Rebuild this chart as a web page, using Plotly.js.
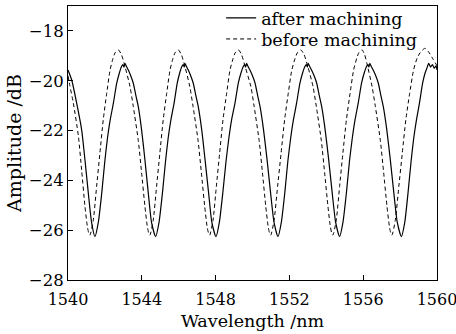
<!DOCTYPE html>
<html>
<head>
<meta charset="utf-8">
<script src="https://cdn.plot.ly/plotly-3.0.1.min.js"></script>
<style>html,body{margin:0;padding:0;background:#fff;}#chart{width:456px;height:334px;}</style>
</head>
<body>
<div id="chart"></div>
<script>
var afterWavelength = [
1540.0,1540.2,1540.47,1540.74,1540.92,1541.1,1541.28,1541.46,
1541.64,1541.83,1542.0,1542.14,1542.28,1542.46,1542.64,1542.78,1542.9,1542.98,1543.03,1543.09,1543.15,1543.27,1543.4,1543.54,1543.68,1543.81,1543.99,1544.17,1544.35,1544.53,1544.75,
1544.93,1545.12,1545.29,1545.43,1545.57,1545.75,1545.92,1546.05,1546.17,1546.25,1546.3,1546.34,1546.4,1546.52,1546.65,1546.79,1546.93,1547.06,1547.25,1547.43,1547.62,1547.8,1548.02,
1548.2,1548.39,1548.57,1548.72,1548.86,1549.05,1549.23,1549.37,1549.5,1549.58,1549.63,1549.68,1549.74,1549.86,1550.0,1550.14,1550.28,1550.41,1550.6,1550.79,1550.98,1551.17,1551.38,
1551.56,1551.75,1551.92,1552.07,1552.21,1552.39,1552.57,1552.71,1552.84,1552.92,1552.97,1553.02,1553.08,1553.2,1553.34,1553.48,1553.62,1553.75,1553.94,1554.13,1554.32,1554.51,1554.72,
1554.9,1555.09,1555.26,1555.41,1555.55,1555.73,1555.91,1556.05,1556.18,1556.26,1556.31,1556.36,1556.42,1556.54,1556.68,1556.82,1556.96,1557.09,1557.28,1557.47,1557.66,1557.85,1558.07,
1558.25,1558.43,1558.6,1558.74,1558.88,1559.05,1559.22,1559.35,1559.45,1559.55,1559.65,1559.75,1559.85,1559.95,1560.0
];
var afterAmplitude = [
-19.57,-19.97,-20.9,-21.97,-23.18,-24.5,-25.7,-26.26,
-25.7,-24.5,-23.2,-22.3,-21.6,-20.9,-20.1,-19.7,-19.43,-19.35,-19.45,-19.3,-19.4,-19.57,-19.8,-20.1,-20.6,-21.04,-21.98,-23.18,-24.5,-25.7,-26.26,
-25.7,-24.5,-23.2,-22.3,-21.6,-20.9,-20.1,-19.7,-19.43,-19.35,-19.45,-19.3,-19.4,-19.57,-19.8,-20.1,-20.6,-21.04,-21.98,-23.18,-24.5,-25.7,-26.26,
-25.7,-24.5,-23.2,-22.3,-21.6,-20.9,-20.1,-19.7,-19.43,-19.35,-19.45,-19.3,-19.4,-19.57,-19.8,-20.1,-20.6,-21.04,-21.98,-23.18,-24.5,-25.7,-26.26,
-25.7,-24.5,-23.2,-22.3,-21.6,-20.9,-20.1,-19.7,-19.43,-19.35,-19.45,-19.3,-19.4,-19.57,-19.8,-20.1,-20.6,-21.04,-21.98,-23.18,-24.5,-25.7,-26.26,
-25.7,-24.5,-23.2,-22.3,-21.6,-20.9,-20.1,-19.7,-19.43,-19.35,-19.45,-19.3,-19.4,-19.57,-19.8,-20.1,-20.6,-21.04,-21.98,-23.18,-24.5,-25.7,-26.26,
-25.7,-24.5,-23.2,-22.3,-21.6,-20.9,-20.1,-19.7,-19.5,-19.3,-19.45,-19.35,-19.5,-19.4,-19.57
];
var beforeWavelength = [
1540.0,1540.1,1540.29,1540.56,1540.74,1540.92,1541.05,1541.12,1541.19,
1541.37,1541.55,1541.73,1541.91,1542.1,1542.28,1542.44,1542.55,1542.73,1542.9,1543.09,1543.36,1543.54,1543.81,1543.99,1544.17,1544.3,1544.37,1544.44,
1544.62,1544.8,1544.98,1545.16,1545.35,1545.53,1545.69,1545.8,1545.98,1546.15,1546.34,1546.6,1546.78,1547.05,1547.23,1547.41,1547.54,1547.61,1547.68,
1547.86,1548.04,1548.22,1548.4,1548.6,1548.78,1548.95,1549.06,1549.24,1549.41,1549.6,1549.91,1550.09,1550.36,1550.54,1550.72,1550.85,1550.92,1550.99,
1551.17,1551.36,1551.55,1551.74,1551.94,1552.13,1552.31,1552.43,1552.62,1552.8,1553.0,1553.28,1553.46,1553.73,1553.91,1554.09,1554.22,1554.29,1554.36,
1554.54,1554.72,1554.9,1555.09,1555.29,1555.48,1555.65,1555.76,1555.94,1556.08,1556.2,1556.48,1556.66,1556.93,1557.11,1557.29,1557.42,1557.49,1557.56,
1557.74,1557.93,1558.12,1558.31,1558.52,1558.73,1558.92,1559.08,1559.34,1559.55,1559.8,1560.0
];
var beforeAmplitude = [
-19.8,-20.2,-20.9,-22.2,-23.6,-25.05,-25.86,-26.1,-26.2,
-25.6,-24.25,-22.9,-21.57,-20.5,-19.57,-19.1,-18.88,-18.76,-18.96,-19.43,-20.23,-21.04,-22.4,-23.7,-25.05,-25.86,-26.1,-26.2,
-25.6,-24.25,-22.9,-21.57,-20.5,-19.57,-19.1,-18.88,-18.76,-18.96,-19.43,-20.23,-21.04,-22.4,-23.7,-25.05,-25.86,-26.1,-26.2,
-25.6,-24.25,-22.9,-21.57,-20.5,-19.57,-19.1,-18.88,-18.76,-18.96,-19.43,-20.23,-21.04,-22.4,-23.7,-25.05,-25.86,-26.1,-26.2,
-25.6,-24.25,-22.9,-21.57,-20.5,-19.57,-19.1,-18.88,-18.76,-18.96,-19.43,-20.23,-21.04,-22.4,-23.7,-25.05,-25.86,-26.1,-26.2,
-25.6,-24.25,-22.9,-21.57,-20.5,-19.57,-19.1,-18.88,-18.76,-18.96,-19.3,-20.23,-21.04,-22.4,-23.7,-25.05,-25.86,-26.1,-26.2,
-25.6,-24.25,-22.9,-21.57,-20.5,-19.57,-19.1,-18.88,-18.7,-18.85,-19.15,-19.4
];
var seriesNames = ['after machining', 'before machining'];
var xTicks = [1540, 1544, 1548, 1552, 1556, 1560];
var yTicks = [-28, -26, -24, -22, -20, -18];

var fontFam = 'DejaVu Serif, Liberation Serif, serif';
var traces = [
  {x: afterWavelength, y: afterAmplitude, name: seriesNames[0], type: 'scatter', mode: 'lines', legend: 'legend',
   line: {color: '#000', width: 1.2, shape: 'spline', smoothing: 0.6}},
  {x: beforeWavelength, y: beforeAmplitude, name: seriesNames[1], type: 'scatter', mode: 'lines', legend: 'legend2',
   line: {color: '#000', width: 1, dash: '4px,3px', shape: 'spline', smoothing: 0.6}}
];
var legFont = {family: fontFam, size: 17.5, color: '#000'};
var layout = {
  width: 456, height: 334,
  margin: {l: 68, r: 19, t: 6, b: 54, autoexpand: false},
  paper_bgcolor: '#fff', plot_bgcolor: '#fff',
  font: {family: fontFam, color: '#000', size: 16},
  showlegend: true,
  legend: {x: 0.415, y: 0.946, yref: 'container', xanchor: 'left', yanchor: 'middle', bgcolor: 'rgba(0,0,0,0)', font: legFont},
  legend2: {x: 0.415, y: 0.883, yref: 'container', xanchor: 'left', yanchor: 'middle', bgcolor: 'rgba(0,0,0,0)', font: legFont},
  xaxis: {range: [1540, 1560], tickvals: xTicks, ticks: 'inside', ticklen: 5, tickcolor: '#000',
          showline: true, mirror: true, linecolor: '#000', linewidth: 1, showgrid: false, zeroline: false,
          ticklabeloverflow: 'allow', ticklabelstandoff: 5, automargin: false,
          tickfont: {family: fontFam, size: 16, color: '#000'},
          title: {text: 'Wavelength /nm', font: {family: fontFam, size: 17.5, color: '#000'}, standoff: 6}},
  yaxis: {range: [-28, -17], tickvals: yTicks, ticks: 'inside', ticklen: 5, tickcolor: '#000',
          showline: true, mirror: true, linecolor: '#000', linewidth: 1, showgrid: false, zeroline: false,
          ticklabeloverflow: 'allow', automargin: false,
          tickfont: {family: fontFam, size: 16.5, color: '#000'},
          title: {text: 'Amplitude /dB', font: {family: fontFam, size: 19, color: '#000'}, standoff: 2}}
};
Plotly.newPlot('chart', traces, layout, {displayModeBar: false, staticPlot: true});
</script>
</body>
</html>
